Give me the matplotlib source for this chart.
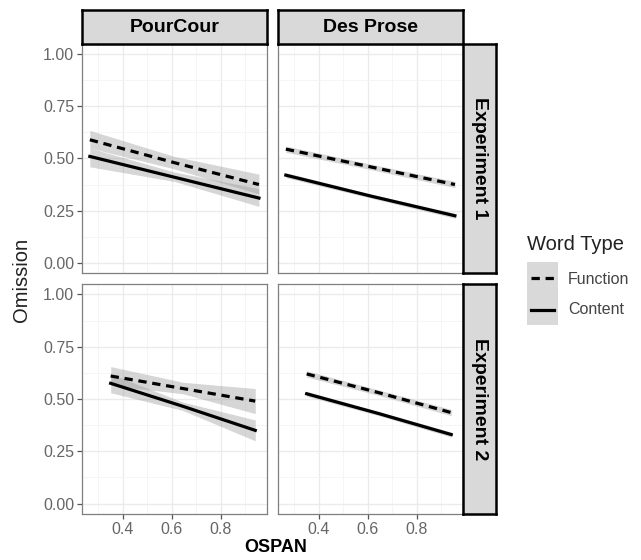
import matplotlib
matplotlib.use("Agg")
import matplotlib.pyplot as plt
from matplotlib.patches import Rectangle
from matplotlib.lines import Line2D

plt.rcParams["font.family"] = ["Liberation Sans", "DejaVu Sans"]

# facets
columns = ["PourCour", "Des Prose"]
rows = ["Experiment 1", "Experiment 2"]

# fitted lines per panel: x, Function fit / band, Content fit / band
x_exp1 = [0.265, 0.61, 0.955]
x_exp2 = [0.35, 0.645, 0.94]

pc1_func = [0.59, 0.48, 0.375]
pc1_func_lo = [0.55, 0.45, 0.33]
pc1_func_hi = [0.635, 0.51, 0.425]
pc1_cont = [0.51, 0.41, 0.31]
pc1_cont_lo = [0.46, 0.39, 0.27]
pc1_cont_hi = [0.55, 0.435, 0.355]

dp1_func = [0.545, 0.46, 0.375]
dp1_func_lo = [0.53, 0.447, 0.36]
dp1_func_hi = [0.56, 0.473, 0.39]
dp1_cont = [0.42, 0.32, 0.225]
dp1_cont_lo = [0.408, 0.31, 0.213]
dp1_cont_hi = [0.432, 0.33, 0.237]

pc2_func = [0.61, 0.55, 0.49]
pc2_func_lo = [0.565, 0.525, 0.43]
pc2_func_hi = [0.655, 0.58, 0.55]
pc2_cont = [0.575, 0.465, 0.35]
pc2_cont_lo = [0.53, 0.445, 0.30]
pc2_cont_hi = [0.62, 0.485, 0.40]

dp2_func = [0.62, 0.53, 0.435]
dp2_func_lo = [0.605, 0.517, 0.42]
dp2_func_hi = [0.635, 0.543, 0.45]
dp2_cont = [0.525, 0.43, 0.33]
dp2_cont_lo = [0.513, 0.42, 0.318]
dp2_cont_hi = [0.537, 0.44, 0.342]

panels = {
    (0, 0): (x_exp1, pc1_func, pc1_func_lo, pc1_func_hi, pc1_cont, pc1_cont_lo, pc1_cont_hi),
    (0, 1): (x_exp1, dp1_func, dp1_func_lo, dp1_func_hi, dp1_cont, dp1_cont_lo, dp1_cont_hi),
    (1, 0): (x_exp2, pc2_func, pc2_func_lo, pc2_func_hi, pc2_cont, pc2_cont_lo, pc2_cont_hi),
    (1, 1): (x_exp2, dp2_func, dp2_func_lo, dp2_func_hi, dp2_cont, dp2_cont_lo, dp2_cont_hi),
}

x_ticks = [0.4, 0.6, 0.8]
x_minor = [0.3, 0.5, 0.7, 0.9]
y_ticks = [0.0, 0.25, 0.5, 0.75, 1.0]
y_minor = [0.125, 0.375, 0.625, 0.875]

W, H = 641, 560
fig = plt.figure(figsize=(W / 100, H / 100), dpi=100)


def fig_rect(x0, y0, x1, y1):
    # pixel box (top-left origin) -> figure fraction
    return [x0 / W, 1 - y1 / H, (x1 - x0) / W, (y1 - y0) / H]


col_px = [(82, 267), (278, 463)]
row_px = [(44, 273), (284, 514)]
tick_col = "#666666"
fill_col = "#999999"
dash = (0, (2.6, 1.8))

for (r, c), (xs, fy, flo, fhi, cy, clo, chi) in panels.items():
    ax = fig.add_axes(fig_rect(col_px[c][0], row_px[r][0], col_px[c][1], row_px[r][1]))
    ax.set_xlim(0.233, 0.988)
    ax.set_ylim(-0.05, 1.05)
    ax.set_xticks(x_ticks)
    ax.set_xticks(x_minor, minor=True)
    ax.set_yticks(y_ticks)
    ax.set_yticks(y_minor, minor=True)
    ax.grid(which="major", color="#ebebeb", linewidth=1.0)
    ax.grid(which="minor", color="#f4f4f4", linewidth=0.6)
    ax.set_axisbelow(True)
    for s in ax.spines.values():
        s.set_color("#7f7f7f")
        s.set_linewidth(0.9)
    ax.tick_params(which="minor", length=0)
    ax.tick_params(which="major", length=3.5, color="#555555", width=0.9,
                   labelsize=11.5, labelcolor=tick_col, pad=2)
    if c == 0:
        ax.set_yticklabels(["0.00", "0.25", "0.50", "0.75", "1.00"])
    else:
        ax.tick_params(axis="y", which="both", left=False, labelleft=False)
    if r == 0:
        ax.tick_params(axis="x", which="both", bottom=False, labelbottom=False)
    else:
        ax.set_xticklabels(["0.4", "0.6", "0.8"])

    ax.fill_between(xs, flo, fhi, color=fill_col, alpha=0.4, linewidth=0)
    ax.fill_between(xs, clo, chi, color=fill_col, alpha=0.4, linewidth=0)
    ax.plot(xs, fy, color="black", linewidth=2.3, linestyle=dash)
    ax.plot(xs, cy, color="black", linewidth=2.3)

# column strips
for c, name in enumerate(columns):
    sax = fig.add_axes(fig_rect(col_px[c][0], 10, col_px[c][1], 44))
    sax.set_facecolor("#d9d9d9")
    sax.set_xticks([])
    sax.set_yticks([])
    for s in sax.spines.values():
        s.set_color("black")
        s.set_linewidth(1.8)
    sax.text(0.5, 0.48, name, ha="center", va="center", fontsize=14,
             fontweight="bold", transform=sax.transAxes)

# row strips
for r, name in enumerate(rows):
    sax = fig.add_axes(fig_rect(463, row_px[r][0], 496, row_px[r][1]))
    sax.set_facecolor("#d9d9d9")
    sax.set_xticks([])
    sax.set_yticks([])
    for s in sax.spines.values():
        s.set_color("black")
        s.set_linewidth(1.8)
    sax.text(0.5, 0.5, name, ha="center", va="center", fontsize=14,
             fontweight="bold", rotation=-90, transform=sax.transAxes)

# axis titles
fig.text(22 / W, 1 - 280 / H, "Omission", rotation=90, ha="center", va="center",
         fontsize=14.5, color="#222222")
fig.text(276 / W, 1 - 548 / H, "OSPAN", ha="center", va="center",
         fontsize=13, fontweight="bold")

# legend
fig.text(527 / W, 1 - 245 / H, "Word Type", ha="left", va="center", fontsize=14.5,
         color="#222222")
leg = fig.add_axes(fig_rect(527, 262, 558, 325))
leg.set_xlim(0, 1)
leg.set_ylim(0, 1)
leg.axis("off")
leg.add_patch(Rectangle((0, 0), 1, 1, color="#d9d9d9", linewidth=0))
leg.add_line(Line2D([0.12, 0.88], [0.74, 0.74], color="black", linewidth=2.3,
                    linestyle=dash))
leg.add_line(Line2D([0.12, 0.88], [0.24, 0.24], color="black", linewidth=2.3))
fig.text(568 / W, 1 - 279 / H, "Function", ha="left", va="center", fontsize=11.5,
         color="#444444")
fig.text(568 / W, 1 - 310 / H, "Content", ha="left", va="center", fontsize=11.5,
         color="#444444")

fig.savefig("out.png", dpi=100)
